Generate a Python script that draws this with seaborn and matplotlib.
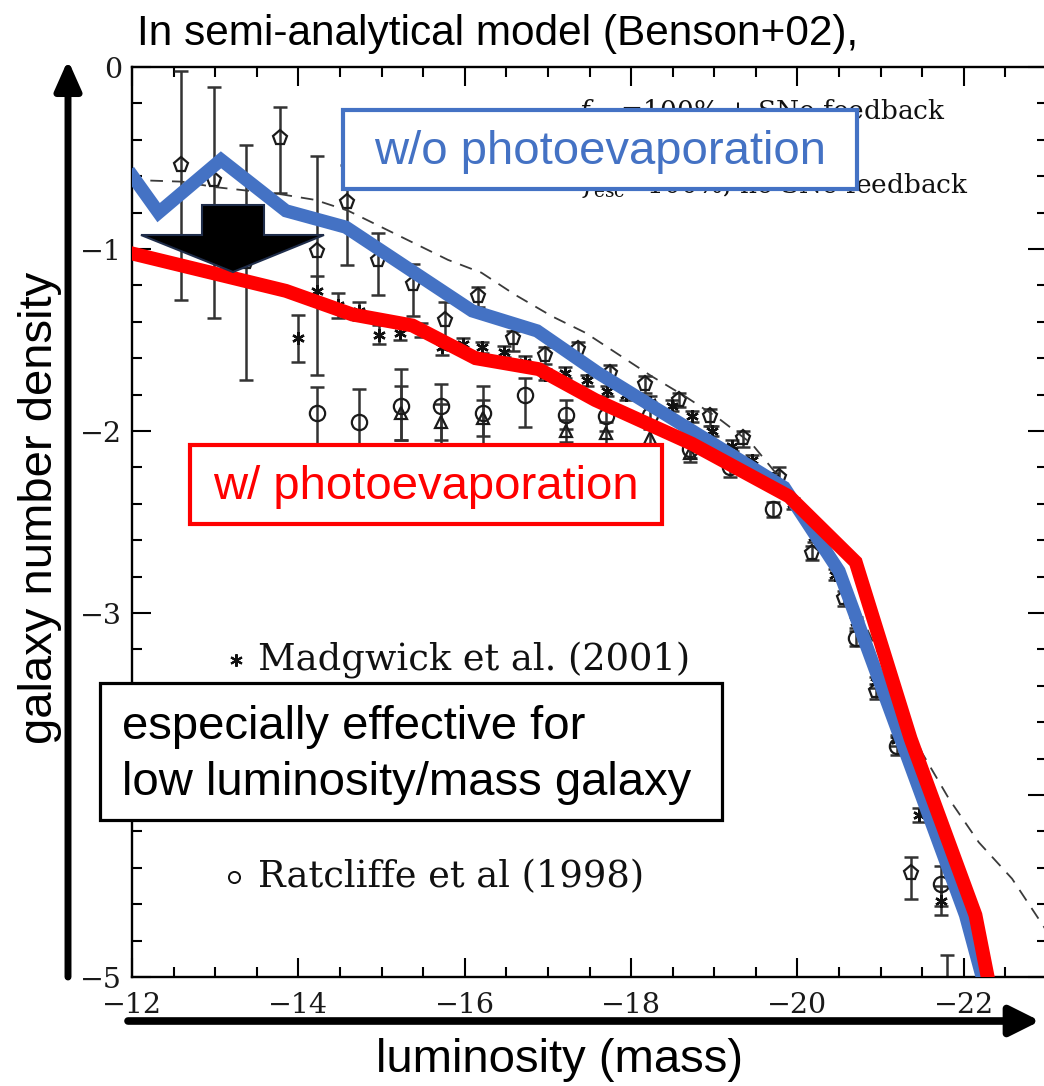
import matplotlib
matplotlib.use("Agg")
import matplotlib.pyplot as plt
from matplotlib.patches import Rectangle, Polygon, FancyArrowPatch
from matplotlib.lines import Line2D
from matplotlib.ticker import MultipleLocator, FixedLocator, FixedFormatter
import seaborn as sns

# ---------------- data ----------------
# model curves
no_photo_x = [-11.96, -12.32, -13.07, -13.85, -14.57, -16.09, -16.87, -17.6, -19.84, -20.5, -22.02, -22.28]
no_photo_y = [-0.57, -0.80, -0.51, -0.79, -0.88, -1.34, -1.45, -1.68, -2.31, -2.77, -4.66, -5.1]

photo_x = [-11.96, -13.85, -14.65, -15.37, -16.13, -16.89, -17.57, -18.73, -19.9, -20.7, -21.36, -22.14, -22.33]
photo_y = [-1.02, -1.23, -1.36, -1.42, -1.60, -1.66, -1.83, -2.07, -2.36, -2.72, -3.69, -4.66, -5.1]

dashed_x = [-11.96, -12.6, -13.0, -13.8, -14.2, -14.6, -15.0, -15.4, -15.8, -16.2, -16.6, -17.05,
            -17.45, -17.85, -18.25, -18.65, -19.05, -19.45, -19.9, -20.3, -20.7, -21.1, -21.5,
            -21.82, -22.18, -22.58, -23.0]
dashed_y = [-0.62, -0.63, -0.66, -0.70, -0.73, -0.79, -0.88, -0.97, -1.06, -1.13, -1.25, -1.37,
            -1.46, -1.58, -1.70, -1.81, -1.93, -2.07, -2.32, -2.62, -2.95, -3.35, -3.77,
            -4.02, -4.26, -4.46, -4.75]

# observational points: open pentagons
pent_x = [-12.59, -12.99, -13.37, -13.78, -14.22, -14.59, -14.96, -15.38, -15.76, -16.16, -16.58, -16.97,
          -17.36, -17.75, -18.17, -18.57, -18.95, -19.35, -19.78, -20.18, -20.56, -20.94, -21.36]
pent_y = [-0.54, -0.62, -1.07, -0.39, -1.01, -0.74, -1.06, -1.19, -1.39, -1.26, -1.49, -1.58,
          -1.55, -1.68, -1.74, -1.83, -1.92, -2.04, -2.25, -2.67, -2.92, -3.43, -4.43]
pent_up = [0.52, 0.51, 0.64, 0.17, 0.52, 0.20, 0.15, 0.11, 0.10, 0.05, 0.04, 0.04,
           0.04, 0.04, 0.04, 0.04, 0.04, 0.04, 0.05, 0.04, 0.04, 0.04, 0.09]
pent_dn = [0.74, 0.76, 0.65, 0.30, 0.68, 0.35, 0.19, 0.18, 0.16, 0.06, 0.07, 0.05,
           0.05, 0.05, 0.05, 0.04, 0.05, 0.05, 0.05, 0.04, 0.04, 0.04, 0.14]

# Madgwick et al. (2001): asterisks
madg_x = [-13.99, -14.23, -14.48, -14.73, -14.97, -15.22, -15.47, -15.73, -15.98, -16.21, -16.47, -16.72,
          -16.97, -17.21, -17.47, -17.71, -17.94, -18.23, -18.49, -18.73, -18.97, -19.21, -19.45, -19.70,
          -19.95, -20.2, -20.45, -20.7, -20.95, -21.2, -21.46, -21.72]
madg_y = [-1.49, -1.23, -1.31, -1.34, -1.47, -1.46, -1.445, -1.54, -1.52, -1.54, -1.565, -1.62,
          -1.69, -1.68, -1.72, -1.78, -1.80, -1.84, -1.86, -1.92, -2.00, -2.08, -2.16, -2.26,
          -2.40, -2.58, -2.79, -3.05, -3.38, -3.70, -4.11, -4.58]
madg_err = [0.13, 0.08, 0.07, 0.05, 0.05, 0.04, 0.04, 0.04, 0.03, 0.03, 0.03, 0.03,
            0.03, 0.03, 0.03, 0.03, 0.03, 0.03, 0.03, 0.03, 0.03, 0.03, 0.03, 0.03,
            0.03, 0.03, 0.03, 0.03, 0.03, 0.03, 0.04, 0.08]

# Ratcliffe et al (1998): open circles
ratc_x = [-14.23, -14.73, -15.23, -15.72, -16.22, -16.72, -17.22, -17.70, -18.23, -18.71, -19.19,
          -19.70, -20.70, -21.20, -21.72]
ratc_y = [-1.90, -1.95, -1.86, -1.86, -1.90, -1.80, -1.91, -1.92, -1.91, -2.10, -2.20,
          -2.43, -3.14, -3.73, -4.49]
ratc_up = [0.14, 0.18, 0.20, 0.12, 0.15, 0.09, 0.08, 0.07, 0.07, 0.05, 0.05, 0.04, 0.04, 0.05, 0.10]
ratc_dn = [0.35, 0.35, 0.19, 0.25, 0.25, 0.18, 0.08, 0.08, 0.07, 0.05, 0.05, 0.04, 0.04, 0.05, 0.12]

# open triangles
tri_x = [-15.23, -15.72, -16.22, -17.22, -17.70, -18.23, -18.71]
tri_y = [-1.90, -1.95, -1.93, -2.00, -2.01, -2.04, -2.12]
tri_err = [0.15, 0.10, 0.10, 0.06, 0.06, 0.05, 0.05]

# point below the frame (only its upper error bar shows)
low_x = [-21.80]
low_y = [-5.2]
low_up = [0.32]

x_ticks = [-12, -14, -16, -18, -20, -22]
y_ticks = [0, -1, -2, -3, -4, -5]
y_tick_labels = ["0", "\u22121", "\u22122", "\u22123", "", "\u22125"]

title = "In semi-analytical model (Benson+02),"
xlabel = "luminosity (mass)"
ylabel = "galaxy number density"
label_no = "w/o photoevaporation"
label_yes = "w/ photoevaporation"
note1 = "especially effective for"
note2 = "low luminosity/mass galaxy"
leg1 = "Madgwick et al. (2001)"
leg2 = "Ratcliffe et al (1998)"
model1 = r"$f_{\rm esc}$=100% + SNe feedback"
model2 = r"$f_{\rm esc}$=100%, no SNe feedback"

# ---------------- figure ----------------
W, H = 1044, 1086
sns.set_style("ticks")
plt.rcParams["font.family"] = ["DejaVu Serif"]
plt.rcParams["mathtext.fontset"] = "dejavuserif"
plt.rcParams["text.color"] = "black"

fig = plt.figure(figsize=(W / 100, H / 100), dpi=100)
fig.patch.set_facecolor("white")


def fx(x):
    return x / W


def fy(y):
    return 1 - y / H


ax = fig.add_axes([fx(132), fy(977), (1047 - 132) / W, (977 - 67) / H])
ax.set_facecolor("white")
ax.set_xlim(-12, -23)
ax.set_ylim(-5, 0)

for s in ax.spines.values():
    s.set_visible(True)
    s.set_linewidth(1.7)
    s.set_color("black")

ax.xaxis.set_major_locator(FixedLocator(x_ticks))
ax.xaxis.set_minor_locator(MultipleLocator(0.5))
ax.yaxis.set_major_locator(FixedLocator(y_ticks))
ax.yaxis.set_major_formatter(FixedFormatter(y_tick_labels))
ax.yaxis.set_minor_locator(MultipleLocator(0.2))
ax.tick_params(which="both", direction="in", top=True, right=True, width=1.5, color="black",
               labelsize=20.5, labelcolor="#1a1a1a")
ax.tick_params(which="major", length=13.5)
ax.tick_params(which="minor", length=7)
ax.tick_params(axis="y", pad=7)
ax.tick_params(axis="x", pad=11)
ax.set_xlabel("")
ax.set_ylabel("")

ecol = "#333333"
ekw = dict(fmt="none", ecolor=ecol, elinewidth=1.8, capsize=4.8, capthick=1.8, zorder=2)
ax.errorbar(pent_x, pent_y, yerr=[pent_dn, pent_up], **ekw)
ax.errorbar(madg_x, madg_y, yerr=[madg_err, madg_err], **ekw)
ax.errorbar(ratc_x, ratc_y, yerr=[ratc_dn, ratc_up], **ekw)
ax.errorbar(tri_x, tri_y, yerr=[tri_err, tri_err], **ekw)
ax.errorbar(low_x, low_y, yerr=[[0], low_up], **ekw)

ax.plot(pent_x, pent_y, ls="none", marker="p", ms=11, mfc="none", mec="#1a1a1a", mew=1.6, zorder=2.2)
ax.plot(madg_x, madg_y, ls="none", marker=(6, 2, 0), ms=9, mec="#111111", mew=1.7, zorder=2.2)
ax.plot(ratc_x, ratc_y, ls="none", marker="o", ms=11, mfc="none", mec="#1a1a1a", mew=1.6, zorder=2.2)
ax.plot(tri_x, tri_y, ls="none", marker="^", ms=8, mfc="none", mec="#1a1a1a", mew=1.6, zorder=2.2)

# model lines with seaborn
sns.lineplot(x=dashed_x, y=dashed_y, sort=False, ax=ax, color="#3a3a3a", linewidth=1.3,
             linestyle=(0, (7, 5)), zorder=2.5)
sns.lineplot(x=no_photo_x, y=no_photo_y, sort=False, ax=ax, color="#4472C4", linewidth=9.5,
             zorder=4, solid_joinstyle="miter", solid_capstyle="butt")
sns.lineplot(x=photo_x, y=photo_y, sort=False, ax=ax, color="#FF0000", linewidth=10,
             zorder=5, solid_joinstyle="miter", solid_capstyle="butt")
if ax.get_legend() is not None:
    ax.get_legend().remove()
ax.set_xlim(-12, -23)
ax.set_ylim(-5, 0)

# texts of the original figure (inside axes, under the overlays)
ax.text(fx(946), fy(119), model1, transform=fig.transFigure, ha="right", va="baseline",
        fontsize=19, color="#111111", zorder=6)
ax.text(fx(969), fy(193), model2, transform=fig.transFigure, ha="right", va="baseline",
        fontsize=19, color="#111111", zorder=6)
ax.text(fx(258), fy(669), leg1, transform=fig.transFigure, ha="left", va="baseline",
        fontsize=26.5, color="#111111", zorder=6)
ax.text(fx(258), fy(887), leg2, transform=fig.transFigure, ha="left", va="baseline",
        fontsize=26.5, color="#111111", zorder=6)
ax.add_line(Line2D([fx(236)], [fy(660)], transform=fig.transFigure, marker=(6, 2, 0), ms=9,
                   mec="#111111", mew=1.5, ls="none", zorder=6))
ax.add_line(Line2D([fx(234)], [fy(877)], transform=fig.transFigure, marker="o", ms=8,
                   mfc="none", mec="#111111", mew=1.4, ls="none", zorder=6))

# ---------------- overlays (figure level) ----------------
sans = "Liberation Sans"

fig.text(fx(137), fy(45), title, family=sans, fontsize=30.5, va="baseline", ha="left", color="black")
fig.text(fx(40), fy(508), ylabel, family=sans, fontsize=34, rotation=90, ha="center", va="center",
         color="black")
fig.text(fx(560), fy(1060), xlabel, family=sans, fontsize=34, ha="center", va="center", color="black")

# axis arrows
fig.add_artist(FancyArrowPatch((fx(68), fy(977)), (fx(68), fy(60)), transform=fig.transFigure,
                               arrowstyle="-|>,head_length=0.9,head_width=0.4", mutation_scale=20,
                               lw=5, color="black", shrinkA=0, shrinkB=0))
fig.add_artist(FancyArrowPatch((fx(128), fy(1021)), (fx(1040), fy(1021)), transform=fig.transFigure,
                               arrowstyle="-|>,head_length=0.9,head_width=0.45", mutation_scale=20,
                               lw=5.5, color="black", shrinkA=0, shrinkB=0))

# block arrow
arrow_pts = [(202, 205), (264, 205), (264, 235), (324, 235), (233, 272), (141, 235), (202, 235)]
fig.add_artist(Polygon([(fx(a), fy(b)) for a, b in arrow_pts], closed=True, transform=fig.transFigure,
                       facecolor="black", edgecolor="#1f2d4a", lw=1.5, zorder=6))

# labelled boxes
def box(x0, y0, x1, y1, ec, lw):
    fig.add_artist(Rectangle((fx(x0), fy(y1)), fx(x1) - fx(x0), fy(y0) - fy(y1),
                             transform=fig.transFigure, facecolor="white", edgecolor=ec, lw=lw, zorder=5))

box(343, 110, 857, 189, "#4472C4", 3)
fig.text(fx(600), fy(152), label_no, family=sans, fontsize=34, color="#4472C4", ha="center", va="center", zorder=7)
box(190, 445, 662, 524, "#FF0000", 3)
fig.text(fx(426), fy(487), label_yes, family=sans, fontsize=34, color="#FF0000", ha="center", va="center", zorder=7)
box(100, 683, 722, 820, "black", 2.3)
fig.text(fx(122), fy(727), note1, family=sans, fontsize=34, color="black", ha="left", va="center", zorder=7)
fig.text(fx(122), fy(783), note2, family=sans, fontsize=34, color="black", ha="left", va="center", zorder=7)

fig.savefig("out.png", dpi=100, facecolor="white")
